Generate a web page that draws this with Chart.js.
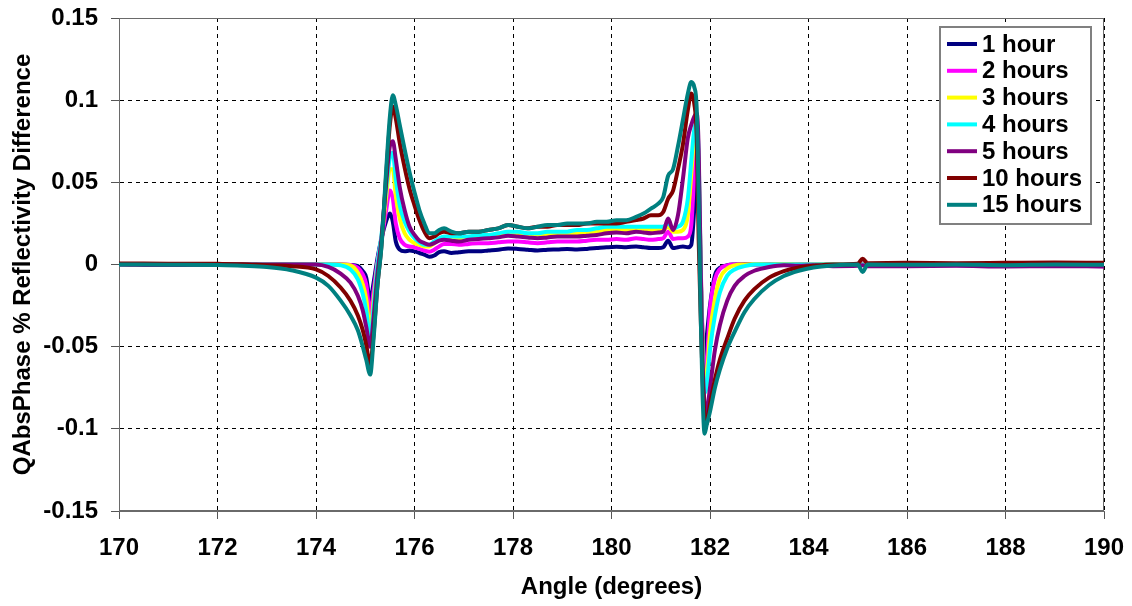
<!DOCTYPE html>
<html>
<head>
<meta charset="utf-8">
<title>QAbsPhase % Reflectivity Difference</title>
<script src="https://cdn.jsdelivr.net/npm/chart.js@4.4.1/dist/chart.umd.min.js"></script>
<style>
  html, body { margin: 0; padding: 0; background: #fff; }
  canvas { display: block; }
</style>
</head>
<body>
<canvas id="graficoFase" width="1132" height="606"></canvas>
<script>
// =================== DADOS ===================
// ângulos (graus) comuns a todas as séries
const angulos = [
  170, 171, 172, 172.5, 173, 173.5, 174, 174.25, 174.5, 174.7,
  174.85, 174.95, 175.02, 175.1, 175.17, 175.25, 175.33, 175.42, 175.5, 175.56,
  175.62, 175.7, 175.8, 175.9, 176.0, 176.1, 176.2, 176.3, 176.4, 176.5,
  176.6, 176.75, 176.9, 177.1, 177.3, 177.5, 177.7, 177.9, 178.1, 178.3,
  178.5, 178.7, 178.9, 179.1, 179.3, 179.5, 179.7, 179.9, 180.1, 180.3,
  180.5, 180.65, 180.8, 180.95, 181.05, 181.15, 181.25, 181.35, 181.45, 181.55,
  181.62, 181.68, 181.73, 181.77, 181.81, 181.85, 181.89, 181.93, 182.0, 182.1,
  182.2, 182.35, 182.5, 182.7, 182.9, 183.2, 183.5, 183.8, 184.1, 184.5,
  185, 185.1, 185.2, 186, 187, 188, 189, 190
];

const hora1 = [
  0, 0.0003, 0, 0.0002, 0, 0.0002, 0, 0, 0, -0.0003,
  -0.001, -0.004, -0.008, -0.022, -0.011, 0.004, 0.016, 0.026, 0.031, 0.026,
  0.014, 0.009, 0.008, 0.0085, 0.008, 0.007, 0.006, 0.0047, 0.0055, 0.0075,
  0.008, 0.007, 0.0075, 0.008, 0.008, 0.0085, 0.009, 0.0098, 0.0095, 0.009,
  0.0085, 0.009, 0.0092, 0.0095, 0.0092, 0.0095, 0.010, 0.0105, 0.0108, 0.0105,
  0.011, 0.0105, 0.010, 0.010, 0.0105, 0.0145, 0.010, 0.0105, 0.011, 0.0105,
  0.012, 0.034, 0.061, 0.048, -0.005, -0.045, -0.057, -0.045, -0.025, -0.0065,
  -0.002, -0.0005, 0, 0.0003, 0, 0.0002, 0, 0.0002, 0, 0,
  0.0002, 0.0005, 0, 0, 0.0002, 0, 0, -0.0003
];

const horas2 = [
  0, 0, 0.0002, 0, 0, 0, 0, 0, 0, -0.0003,
  -0.002, -0.006, -0.012, -0.030, -0.016, 0.002, 0.015, 0.032, 0.045, 0.040,
  0.025, 0.016, 0.012, 0.011, 0.0105, 0.0095, 0.0085, 0.0078, 0.009, 0.011,
  0.0125, 0.0125, 0.012, 0.0125, 0.013, 0.013, 0.0135, 0.014, 0.014, 0.0135,
  0.013, 0.0135, 0.014, 0.014, 0.014, 0.0145, 0.015, 0.015, 0.0155, 0.015,
  0.016, 0.0155, 0.015, 0.0155, 0.016, 0.020, 0.0155, 0.016, 0.016, 0.017,
  0.024, 0.054, 0.073, 0.058, 0.0, -0.045, -0.068, -0.062, -0.027, -0.009,
  -0.0028, -0.0005, 0, 0, -0.0003, 0, -0.0002, 0, 0, -0.0003,
  0, 0.0004, -0.0003, -0.0005, -0.0005, -0.0008, -0.0008, -0.001
];

const horas3 = [
  0, 0, 0, 0, 0, 0, 0, 0, 0, -0.0005,
  -0.005, -0.012, -0.021, -0.040, -0.022, 0.0, 0.016, 0.040, 0.058, 0.058,
  0.042, 0.028, 0.019, 0.015, 0.013, 0.012, 0.011, 0.011, 0.013, 0.015,
  0.016, 0.016, 0.016, 0.016, 0.017, 0.017, 0.018, 0.019, 0.019, 0.018,
  0.018, 0.0185, 0.019, 0.019, 0.019, 0.0195, 0.020, 0.021, 0.021, 0.021,
  0.021, 0.021, 0.021, 0.021, 0.021, 0.023, 0.020, 0.020, 0.021, 0.030,
  0.055, 0.077, 0.080, 0.060, 0.0, -0.050, -0.073, -0.070, -0.042, -0.021,
  -0.0085, -0.0025, -0.0005, 0, 0.0002, 0, 0.0002, 0, 0, 0,
  0, 0, 0, 0.0002, 0, 0, 0.0002, 0
];

const horas4 = [
  0, 0, 0, 0, 0, 0, 0, 0, -0.0005, -0.003,
  -0.009, -0.018, -0.028, -0.044, -0.026, 0.0, 0.018, 0.045, 0.065, 0.068,
  0.052, 0.036, 0.026, 0.020, 0.016, 0.0135, 0.012, 0.012, 0.014, 0.016,
  0.017, 0.017, 0.017, 0.017, 0.018, 0.018, 0.019, 0.020, 0.020, 0.019,
  0.019, 0.020, 0.020, 0.020, 0.021, 0.021, 0.022, 0.023, 0.023, 0.023,
  0.023, 0.023, 0.023, 0.023, 0.023, 0.025, 0.022, 0.023, 0.026, 0.040,
  0.063, 0.082, 0.086, 0.065, 0.0, -0.055, -0.078, -0.075, -0.052, -0.031,
  -0.017, -0.0068, -0.003, -0.001, 0, 0, 0, 0, 0, 0,
  0, 0, 0, 0, 0, 0, 0, 0
];

const horas5 = [
  0, -0.0003, 0, 0, 0, 0, 0, -0.0015, -0.0055, -0.011,
  -0.019, -0.028, -0.038, -0.050, -0.032, -0.005, 0.016, 0.048, 0.072, 0.075,
  0.064, 0.047, 0.033, 0.023, 0.018, 0.0145, 0.013, 0.012, 0.013, 0.0145,
  0.015, 0.0145, 0.014, 0.015, 0.0155, 0.016, 0.0165, 0.0175, 0.017, 0.0165,
  0.016, 0.0165, 0.017, 0.017, 0.017, 0.0175, 0.018, 0.019, 0.0195, 0.019,
  0.020, 0.0195, 0.019, 0.0195, 0.020, 0.028, 0.021, 0.030, 0.052, 0.077,
  0.085, 0.090, 0.092, 0.070, 0.0, -0.060, -0.085, -0.090, -0.075, -0.052,
  -0.037, -0.022, -0.013, -0.007, -0.0038, -0.0015, -0.0005, -0.0008, -0.0005, -0.001,
  -0.0008, -0.0005, -0.001, -0.001, -0.0008, -0.0012, -0.001, -0.0012
];

const horas10 = [
  0.0006, 0.0005, 0.0004, 0.0002, -0.0005, -0.001, -0.003, -0.007, -0.014, -0.022,
  -0.031, -0.040, -0.049, -0.061, -0.042, -0.012, 0.012, 0.052, 0.085, 0.096,
  0.089, 0.074, 0.059, 0.046, 0.036, 0.027, 0.020, 0.016, 0.017, 0.019,
  0.020, 0.019, 0.019, 0.020, 0.020, 0.021, 0.022, 0.024, 0.023, 0.022,
  0.023, 0.023, 0.024, 0.024, 0.024, 0.025, 0.025, 0.025, 0.025, 0.026,
  0.027, 0.028, 0.030, 0.030, 0.032, 0.040, 0.045, 0.058, 0.073, 0.094,
  0.104, 0.098, 0.078, 0.015, -0.030, -0.070, -0.092, -0.097, -0.085, -0.070,
  -0.058, -0.045, -0.033, -0.022, -0.015, -0.008, -0.004, -0.0018, -0.0008, 0,
  0.0005, 0.0035, 0.0008, 0.001, 0.0008, 0.001, 0.0012, 0.001
];

const horas15 = [
  0, -0.0002, -0.0003, -0.0008, -0.0015, -0.0035, -0.008, -0.013, -0.022, -0.031,
  -0.040, -0.050, -0.058, -0.067, -0.045, -0.012, 0.011, 0.055, 0.090, 0.103,
  0.097, 0.085, 0.070, 0.056, 0.044, 0.033, 0.025, 0.019, 0.019, 0.021,
  0.022, 0.020, 0.019, 0.020, 0.020, 0.021, 0.022, 0.024, 0.023, 0.022,
  0.023, 0.024, 0.024, 0.025, 0.025, 0.025, 0.026, 0.026, 0.027, 0.027,
  0.029, 0.031, 0.034, 0.037, 0.041, 0.054, 0.058, 0.072, 0.088, 0.104,
  0.111, 0.108, 0.095, 0.040, -0.030, -0.080, -0.103, -0.098, -0.0895, -0.075,
  -0.064, -0.051, -0.041, -0.029, -0.021, -0.0125, -0.007, -0.0038, -0.0018, -0.0006,
  0, -0.0045, 0, -0.0002, 0, -0.0004, 0, -0.0002
];

const rotulos = ['1 hour', '2 hours', '3 hours', '4 hours', '5 hours', '10 hours', '15 hours'];
const cores = ['#000080', '#FF00FF', '#FFFF00', '#00FFFF', '#800080', '#800000', '#008080'];
const series = [hora1, horas2, horas3, horas4, horas5, horas10, horas15];

const limitesX = [170, 190];
const limitesY = [-0.15, 0.15];

const FONTE = '"Liberation Sans", Arial, sans-serif';

// =================== PLUGINS ===================
// moldura cinza em volta da área do gráfico
const moldura = {
  id: 'moldura',
  beforeDatasetsDraw(chart) {
    const { ctx, chartArea: a } = chart;
    const l = Math.round(a.left) + 0.5, t = Math.round(a.top) + 0.5;
    const r = Math.round(a.right) - 0.5, b = Math.round(a.bottom) - 0.5;
    ctx.save();
    ctx.strokeStyle = '#6a6a6a';
    ctx.lineWidth = 1;
    ctx.strokeRect(l, t, r - l, b - t);
    ctx.restore();
  }
};

// legenda em caixa no canto superior direito
const legendaCaixa = {
  id: 'legendaCaixa',
  afterDraw(chart) {
    const { ctx, chartArea } = chart;
    const x = chartArea.right - 164;
    const y = chartArea.top + 9;
    const w = 151, h = 197;
    ctx.save();
    ctx.fillStyle = '#fff';
    ctx.fillRect(x, y, w, h);
    ctx.strokeStyle = '#808080';
    ctx.lineWidth = 2;
    ctx.strokeRect(x, y, w, h);
    ctx.font = 'bold 24px ' + FONTE;
    ctx.textBaseline = 'middle';
    chart.data.datasets.forEach((ds, i) => {
      const cy = y + 17 + i * 26.8;
      ctx.strokeStyle = ds.borderColor;
      ctx.lineWidth = 4;
      ctx.beginPath();
      ctx.moveTo(x + 7, cy);
      ctx.lineTo(x + 37, cy);
      ctx.stroke();
      ctx.fillStyle = '#000';
      ctx.fillText(ds.label, x + 42, cy + 1);
    });
    ctx.restore();
  }
};

// =================== GRÁFICO ===================
function criarGrafico(elementId) {
  const ctx = document.getElementById(elementId);
  if (!ctx) {
    console.error(`Elemento <canvas> '${elementId}' não encontrado.`);
    return null;
  }

  Chart.defaults.font.family = FONTE;
  Chart.defaults.font.size = 24;
  Chart.defaults.font.weight = 'bold';
  Chart.defaults.color = '#000';

  const datasets = series.map((valores, i) => ({
    label: rotulos[i],
    data: angulos.map((a, k) => ({ x: a, y: valores[k] })),
    borderColor: cores[i],
    backgroundColor: cores[i],
    borderWidth: 4,
    pointRadius: 0,
    cubicInterpolationMode: 'monotone',
    fill: false,
    order: series.length - 1 - i   // 15 hours desenhada por cima
  }));

  return new Chart(ctx, {
    type: 'line',
    data: { datasets },
    options: {
      responsive: false,
      animation: false,
      layout: { padding: { top: 18, right: 28, left: 0, bottom: 0 } },
      plugins: {
        legend: { display: false },
        tooltip: { enabled: false }
      },
      scales: {
        x: {
          type: 'linear',
          min: limitesX[0],
          max: limitesX[1],
          // altura fixa e sem folga lateral extra dos rótulos
          afterFit: (scale) => {
            scale.height = 95;
            scale.paddingLeft = 0;
            scale.paddingRight = 0;
          },
          ticks: { stepSize: 2, padding: 15, maxRotation: 0 },
          grid: { color: '#000', lineWidth: 1, tickLength: 8, tickColor: '#555' },
          border: { display: true, color: '#6a6a6a', dash: [4, 4] },
          title: {
            display: true,
            text: 'Angle (degrees)',
            padding: { top: 0, bottom: 4 }
          }
        },
        y: {
          min: limitesY[0],
          max: limitesY[1],
          afterFit: (scale) => {
            scale.width = 119;
            scale.paddingTop = 0;
            scale.paddingBottom = 0;
          },
          ticks: {
            stepSize: 0.05,
            padding: 13,
            callback: (v) => String(Math.round(v * 100) / 100)
          },
          grid: { color: '#000', lineWidth: 1, tickLength: 8, tickColor: '#555' },
          border: { display: true, color: '#6a6a6a', dash: [4, 4] },
          title: {
            display: true,
            text: 'QAbsPhase % Reflectivity Difference',
            padding: { top: 9, bottom: 0 }
          }
        }
      }
    },
    plugins: [moldura, legendaCaixa]
  });
}

criarGrafico('graficoFase');
</script>
</body>
</html>
